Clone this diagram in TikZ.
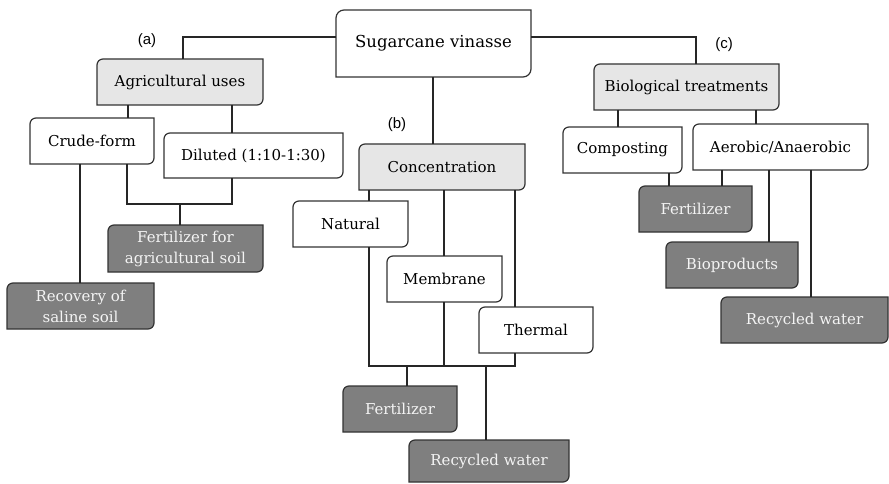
\documentclass[tikz,border=0pt]{standalone}
\usepackage{fontspec}
\setmainfont{DejaVu Serif}
\newfontfamily\labfont{Liberation Sans}
\usetikzlibrary{backgrounds}
\definecolor{lightfill}{HTML}{E6E6E6}
\definecolor{darkfill}{HTML}{7F7F7F}
\definecolor{edgecol}{HTML}{333333}
\definecolor{darktext}{HTML}{F4F4F4}
\tikzset{
  every node/.style={inner sep=0pt, outer sep=0pt},
  txt/.style={font=\fontsize{15}{21}\selectfont, align=center},
  bigtxt/.style={font=\fontsize{16.5}{21}\selectfont},
  dtxt/.style={text=darktext},
  wfill/.style={draw=edgecol, line width=1.2pt, fill=white},
  lfill/.style={draw=edgecol, line width=1.2pt, fill=lightfill},
  dfill/.style={draw=edgecol, line width=1.2pt, fill=darkfill},
  conn/.style={draw=black!85, line width=1.2pt},
  lab/.style={font=\labfont\fontsize{15}{18}\selectfont},
}
\newcommand\bx[7][]{\node[txt,#1,minimum width={(#5-#3)*1pt},minimum height={(#6-#4)*1pt}] (#2) at ({(#3+#5)/2},{(#4+#6)/2}) {#7};}
\newcommand\diag[3]{\path[#2] (#1.south west) -- ([yshift=-#3]#1.north west) arc[start angle=180,end angle=90,radius=#3] -- (#1.north east) -- ([yshift=#3]#1.south east) arc[start angle=0,end angle=-90,radius=#3] -- cycle;}
\begin{document}
\begin{tikzpicture}[x=1pt,y=-1pt]
\useasboundingbox (0,0) rectangle (889,484);
% boxes
\bx[bigtxt]{sv}{336}{10}{531}{77}{Sugarcane vinasse}
\bx{agri}{97}{59}{263}{105}{Agricultural uses}
\bx{crude}{30}{118}{154}{164}{Crude-form}
\bx{dil}{164}{133}{343}{178}{Diluted (1:10-1:30)}
\bx[dtxt]{fas}{108}{225}{263}{272}{Fertilizer for\\agricultural soil}
\bx[dtxt]{rss}{7}{283}{154}{329}{Recovery of\\saline soil}
\bx{conc}{359}{144}{525}{190}{Concentration}
\bx{nat}{293}{201}{408}{247}{Natural}
\bx{mem}{387}{256}{502}{302}{Membrane}
\bx{ther}{479}{307}{593}{353}{Thermal}
\bx[dtxt]{fert1}{343}{386}{457}{432}{Fertilizer}
\bx[dtxt]{rw1}{409}{440}{569}{482}{Recycled water}
\bx{bio}{594}{64}{779}{110}{Biological treatments}
\bx{comp}{563}{127}{682}{173}{Composting}
\bx{aer}{693}{124}{868}{170}{Aerobic/Anaerobic}
\bx[dtxt]{fert2}{639}{186}{752}{232}{Fertilizer}
\bx[dtxt]{biop}{666}{242}{798}{288}{Bioproducts}
\bx[dtxt]{rw2}{721}{297}{888}{343}{Recycled water}
% labels
\node[lab] (la) at (147,41) {(a)};
\node[lab] (lb) at (397,125) {(b)};
\node[lab] (lc) at (724,45) {(c)};
% box shapes
\begin{scope}[on background layer]
\fill[white] (0,0) rectangle (889,484);
\diag{sv}{wfill}{8pt}
\diag{agri}{lfill}{6pt}
\diag{crude}{wfill}{6pt}
\diag{dil}{wfill}{6pt}
\diag{fas}{dfill}{6pt}
\diag{rss}{dfill}{6pt}
\diag{conc}{lfill}{6pt}
\diag{nat}{wfill}{6pt}
\diag{mem}{wfill}{6pt}
\diag{ther}{wfill}{6pt}
\diag{fert1}{dfill}{6pt}
\diag{rw1}{dfill}{6pt}
\diag{bio}{lfill}{6pt}
\diag{comp}{wfill}{6pt}
\diag{aer}{wfill}{6pt}
\diag{fert2}{dfill}{6pt}
\diag{biop}{dfill}{6pt}
\diag{rw2}{dfill}{6pt}
\end{scope}
% guide coordinates
\foreach \v in {80,127,128,180,183,232,369,407,433,444,486,515,618,669,696,722,756,769,811}
  {\coordinate (x\v) at (\v,0);}
\coordinate (y37) at (0,37);
\coordinate (y204) at (0,204);
\coordinate (y366) at (0,366);
% connectors
\draw[conn] (sv.west |- y37) -| (x183 |- agri.north);
\draw[conn] (sv.east |- y37) -| (x696 |- bio.north);
\draw[conn] (x433 |- sv.south) -- (x433 |- conc.north);
\draw[conn] (x128 |- agri.south) -- (x128 |- crude.north);
\draw[conn] (x232 |- agri.south) -- (x232 |- dil.north);
\draw[conn] (x127 |- crude.south) -- (x127 |- y204) -- (x232 |- y204) -- (x232 |- dil.south);
\draw[conn] (x180 |- y204) -- (x180 |- fas.north);
\draw[conn] (x80 |- crude.south) -- (x80 |- rss.north);
\draw[conn] (x369 |- conc.south) -- (x369 |- nat.north);
\draw[conn] (x444 |- conc.south) -- (x444 |- mem.north);
\draw[conn] (x515 |- conc.south) -- (x515 |- ther.north);
\draw[conn] (x369 |- nat.south) -- (x369 |- y366) -- (x515 |- y366) -- (x515 |- ther.south);
\draw[conn] (x444 |- mem.south) -- (x444 |- y366);
\draw[conn] (x407 |- y366) -- (x407 |- fert1.north);
\draw[conn] (x486 |- y366) -- (x486 |- rw1.north);
\draw[conn] (x618 |- bio.south) -- (x618 |- comp.north);
\draw[conn] (x756 |- bio.south) -- (x756 |- aer.north);
\draw[conn] (x669 |- comp.south) -- (x669 |- fert2.north);
\draw[conn] (x722 |- aer.south) -- (x722 |- fert2.north);
\draw[conn] (x769 |- aer.south) -- (x769 |- biop.north);
\draw[conn] (x811 |- aer.south) -- (x811 |- rw2.north);
\end{tikzpicture}
\end{document}
